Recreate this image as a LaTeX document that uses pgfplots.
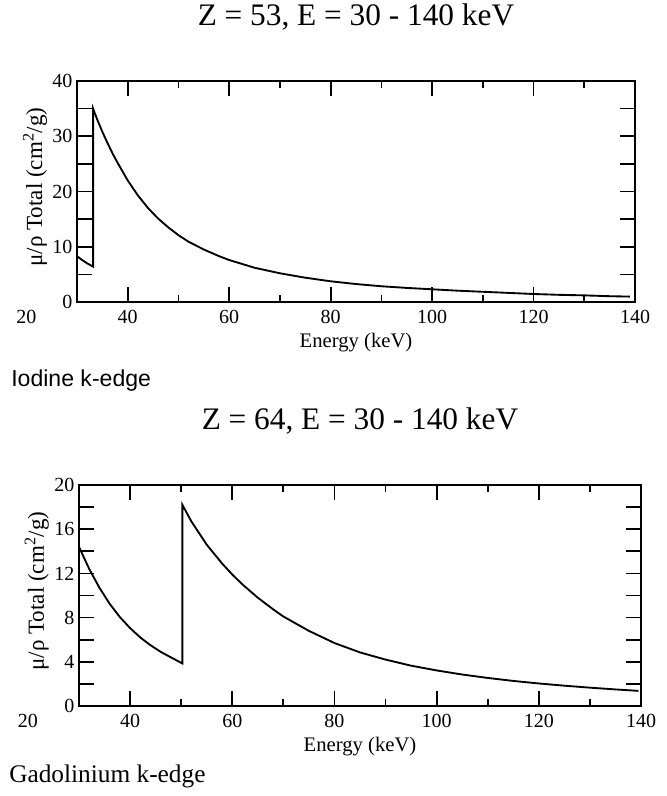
\documentclass[border=0pt]{standalone}
\usepackage{fontspec}
\setmainfont{Liberation Serif}
\newfontfamily\arialfont{Liberation Sans}
\usepackage{pgfplots}
\pgfplotsset{compat=1.18}

% mass attenuation of iodine
\pgfplotstableread{
E mu
30 8.3
31 7.6
32 7.0
33.17 6.4
33.17 35.0
34 33.0
35 30.8
36 28.8
37 26.9
38 25.2
40 22.0
42 19.3
44 17.0
46 15.1
48 13.5
50 12.1
52 10.9
55 9.5
58 8.3
60 7.6
65 6.2
70 5.2
75 4.4
80 3.75
85 3.25
90 2.85
95 2.55
100 2.3
105 2.05
110 1.85
115 1.65
120 1.45
125 1.3
130 1.2
135 1.05
139 0.98
}\iodine

% mass attenuation of gadolinium
\pgfplotstableread{
E mu
30 14.4
32 12.4
34 10.7
36 9.25
38 8.05
40 7.05
42 6.2
44 5.5
46 4.9
48 4.4
50.24 3.85
50.24 18.2
52 16.7
55 14.6
58 12.9
60 11.9
62 11.0
65 9.8
68 8.75
70 8.1
75 6.8
80 5.7
85 4.85
90 4.2
95 3.65
100 3.22
105 2.85
110 2.54
115 2.27
120 2.04
125 1.84
130 1.66
135 1.5
139.5 1.37
}\gadolinium

\pgfplotsset{kedge/.style={
  scale only axis,
  xmin=30, xmax=140,
  xtick={40,60,...,140}, minor x tick num=1,
  tick align=inside,
  major tick length=11.5pt, minor tick length=5.25pt,
  axis line style={line width=1.4pt},
  every tick/.style={black, line width=1.3pt},
  clip=false,
  /pgf/number format/assume math mode=true,
  tick label style={font=\fontsize{15}{18}\selectfont},
  xticklabel style={yshift=-2.5pt},
  xlabel={Energy (keV)},
  xlabel style={at={(axis description cs:0.5,0)}, anchor=base, yshift=-33.75pt,
    font=\fontsize{15.5}{18}\selectfont},
  ylabel={μ/ρ Total (cm\textsuperscript{2}/g)},
  ylabel style={at={(axis description cs:-0.0627,0.52)}, anchor=base,
    font=\fontsize{17.3}{20}\selectfont},
  title style={at={(axis description cs:0.5,1.216)}, anchor=base,
    font=\fontsize{23.5}{28}\selectfont},
}}

\begin{document}
\begin{tikzpicture}
\useasboundingbox (0,0) rectangle (500.25pt,-597pt);

\begin{axis}[kedge,
  at={(57.75pt,-226.5pt)}, anchor=south west,
  width=418.5pt, height=165.75pt,
  ymin=0, ymax=40,
  ytick={0,5,...,40}, yticklabels={0,,10,,20,,30,,40},
  title={Z = 53, E = 30 - 140 keV},
]
\addplot[black, line width=1.4pt, mark=none] table[x=E, y=mu] {\iodine};
\node[anchor=north, yshift=-2.5pt, font=\fontsize{15}{18}\selectfont] at (axis cs:20,0) {20};
\end{axis}

\node[anchor=base west, inner sep=0pt, font=\arialfont\fontsize{17.3}{20}\selectfont]
  at (8.25pt,-289.5pt) {Iodine k-edge};

\begin{axis}[kedge,
  at={(59.25pt,-529.5pt)}, anchor=south west,
  width=421.5pt, height=165.75pt,
  ymin=0, ymax=20,
  ytick={0,2,...,20}, yticklabels={0,,4,,8,,12,,16,,20},
  title={Z = 64, E = 30 - 140 keV},
]
\addplot[black, line width=1.4pt, mark=none] table[x=E, y=mu] {\gadolinium};
\node[anchor=north, yshift=-2.5pt, font=\fontsize{15}{18}\selectfont] at (axis cs:20,0) {20};
\end{axis}

\node[anchor=base west, inner sep=0pt, font=\fontsize{19}{22}\selectfont]
  at (6.75pt,-587pt) {Gadolinium k-edge};
\end{tikzpicture}
\end{document}
